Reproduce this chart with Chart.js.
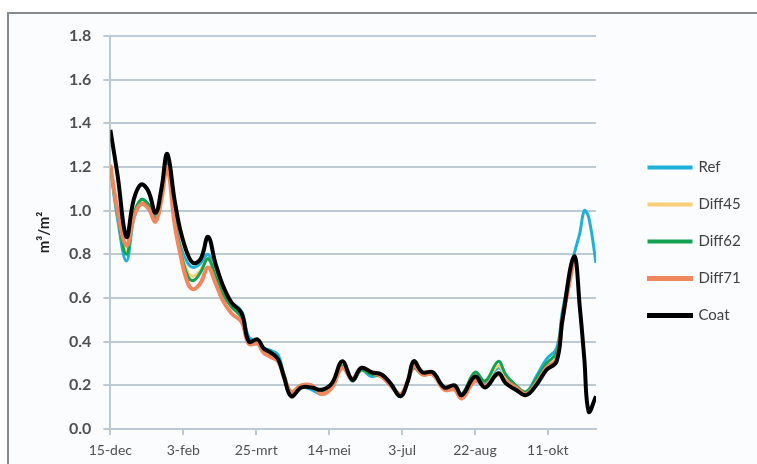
<!DOCTYPE html>
<html>
<head>
<meta charset="utf-8">
<script src="https://cdn.jsdelivr.net/npm/chart.js@4.4.1/dist/chart.umd.min.js"></script>
<style>
  html, body { margin: 0; padding: 0; background: #ffffff; overflow: hidden; }
  #frame {
    position: absolute; left: 7px; top: 12px; width: 780px; height: 470px;
    border-top: 2px solid #858a8e; border-left: 2px solid #858a8e;
    background: #fbfcfe;
  }
  #wrap { position: absolute; left: 0; top: 0; width: 746px; height: 464px; }
</style>
</head>
<body>
<div id="frame"></div>
<div id="wrap"><canvas id="chart"></canvas></div>
<script>
// days after 15-dec
const days = [0, 5, 11, 16, 21, 26, 31, 35, 39, 44,
  48, 53, 57, 62, 67, 72, 77, 83, 90, 95,
  101, 105, 110, 115, 119, 124, 131, 138, 145, 152,
  159, 166, 172, 179, 186, 192, 199, 204, 208, 214,
  221, 229, 236, 241, 250, 257, 266, 271, 278, 285,
  292, 299, 306, 310, 318, 322, 325, 328, 333];

const dateLabels = ['15-dec', '3-feb', '25-mrt', '14-mei', '3-jul', '22-aug', '11-okt'];

const refVals = [1.20, 0.96, 0.77, 0.96, 1.05, 1.03, 0.97, 1.08, 1.22, 0.97,
  0.84, 0.76, 0.74, 0.76, 0.80, 0.72, 0.64, 0.58, 0.54, 0.42,
  0.40, 0.37, 0.36, 0.34, 0.25, 0.16, 0.19, 0.18, 0.16, 0.20,
  0.29, 0.22, 0.27, 0.24, 0.25, 0.21, 0.15, 0.22, 0.28, 0.25,
  0.25, 0.19, 0.19, 0.15, 0.24, 0.21, 0.28, 0.24, 0.20, 0.17,
  0.24, 0.32, 0.37, 0.54, 0.80, 0.90, 1.00, 0.97, 0.76];

const diff45Vals = [1.20, 0.98, 0.81, 0.97, 1.04, 1.02, 0.96, 1.06, 1.21, 0.95,
  0.82, 0.72, 0.70, 0.73, 0.78, 0.70, 0.62, 0.56, 0.52, 0.40,
  0.40, 0.36, 0.34, 0.32, 0.25, 0.17, 0.20, 0.19, 0.17, 0.20,
  0.29, 0.23, 0.27, 0.25, 0.24, 0.20, 0.16, 0.22, 0.28, 0.25,
  0.25, 0.19, 0.19, 0.15, 0.25, 0.22, 0.29, 0.24, 0.20, 0.17,
  0.22, 0.29, 0.33, 0.51, 0.78];

const diff62Vals = [1.20, 0.98, 0.80, 0.98, 1.05, 1.03, 0.96, 1.07, 1.22, 0.96,
  0.82, 0.70, 0.68, 0.72, 0.78, 0.70, 0.62, 0.56, 0.51, 0.40,
  0.40, 0.36, 0.34, 0.32, 0.25, 0.17, 0.20, 0.19, 0.17, 0.20,
  0.29, 0.22, 0.27, 0.25, 0.24, 0.20, 0.16, 0.22, 0.28, 0.25,
  0.25, 0.19, 0.19, 0.16, 0.26, 0.22, 0.31, 0.25, 0.20, 0.17,
  0.23, 0.30, 0.35, 0.52, 0.79];

const diff71Vals = [1.21, 1.00, 0.84, 0.97, 1.03, 1.01, 0.95, 1.05, 1.20, 0.94,
  0.80, 0.67, 0.64, 0.67, 0.74, 0.67, 0.59, 0.53, 0.49, 0.39,
  0.39, 0.35, 0.33, 0.31, 0.24, 0.17, 0.20, 0.20, 0.16, 0.19,
  0.28, 0.23, 0.28, 0.26, 0.24, 0.20, 0.16, 0.22, 0.29, 0.25,
  0.25, 0.18, 0.18, 0.14, 0.22, 0.20, 0.25, 0.22, 0.19, 0.16,
  0.21, 0.28, 0.32, 0.50, 0.78];

const coatVals = [1.37, 1.16, 0.88, 1.05, 1.12, 1.09, 0.99, 1.10, 1.26, 1.05,
  0.91, 0.80, 0.76, 0.78, 0.88, 0.76, 0.66, 0.58, 0.53, 0.40,
  0.41, 0.37, 0.35, 0.32, 0.24, 0.15, 0.19, 0.19, 0.18, 0.21,
  0.31, 0.225, 0.28, 0.26, 0.25, 0.21, 0.15, 0.22, 0.31, 0.26,
  0.26, 0.19, 0.20, 0.155, 0.24, 0.19, 0.255, 0.21, 0.18, 0.155,
  0.20, 0.27, 0.31, 0.50, 0.79, 0.55, 0.32, 0.08, 0.15];

const seriesNames = ['Ref', 'Diff45', 'Diff62', 'Diff71', 'Coat'];
const seriesColors = ['#1fb0d8', '#fbcf7a', '#12a252', '#f2865f', '#000000'];
const seriesWidths = [3, 3, 3, 4, 4];
const seriesValues = [refVals, diff45Vals, diff62Vals, diff71Vals, coatVals];

const gridColor = '#bccad5';
const textColor = '#505050';

const datasets = seriesNames.map((name, i) => ({
  label: name,
  data: seriesValues[i].map((v, j) => ({ x: days[j], y: v })),
  borderColor: seriesColors[i],
  backgroundColor: seriesColors[i],
  borderWidth: seriesWidths[i],
  pointRadius: 0,
  tension: 0.4,
  fill: false,
  order: seriesNames.length - 1 - i  // Coat drawn on top
}));

new Chart(document.getElementById('chart'), {
  type: 'line',
  data: { datasets: datasets },
  options: {
    responsive: true,
    maintainAspectRatio: false,
    animation: false,
    layout: { padding: { left: 32, top: 36, right: 0, bottom: 0 } },
    plugins: {
      tooltip: { enabled: false },
      legend: {
        position: 'right',
        align: 'start',
        // empty title only used to push the entries down
        title: { display: true, text: ' ', font: { size: 10 }, padding: { top: 90, bottom: 0 } },
        labels: {
          sort: (a, b) => a.datasetIndex - b.datasetIndex,
          boxWidth: 42,
          boxHeight: 1,
          padding: 22,
          color: '#404040',
          font: { family: 'Lato', size: 15 }
        }
      }
    },
    scales: {
      x: {
        type: 'linear',
        min: 0,
        max: 333,
        border: { color: gridColor, width: 2 },
        grid: { display: true, drawOnChartArea: false, color: gridColor, lineWidth: 2, tickLength: 6 },
        ticks: {
          stepSize: 50,
          includeBounds: false,
          autoSkip: false,
          maxRotation: 0,
          padding: 7,
          color: textColor,
          font: { family: 'Lato', size: 14 },
          callback: v => (v % 50 === 0 ? dateLabels[v / 50] : '')
        },
        afterFit: s => { s.height = 35; }
      },
      y: {
        min: 0,
        max: 1.8,
        border: { color: gridColor, width: 2 },
        grid: { color: gridColor, lineWidth: 2, tickLength: 7 },
        ticks: {
          stepSize: 0.2,
          padding: 12,
          color: textColor,
          font: { family: 'Lato', size: 16, weight: 'bold' },
          callback: v => v.toFixed(1)
        },
        title: {
          display: true,
          text: 'm³/m²',
          color: '#222222',
          font: { family: 'Lato', size: 15, weight: 'bold' },
          padding: { top: 3, bottom: 4 }
        }
      },
      spacer: {
        type: 'linear',
        position: 'right',
        display: true,
        border: { display: false },
        grid: { display: false },
        ticks: { display: false },
        afterFit: s => { s.width = 31; }
      }
    }
  }
});
</script>
</body>
</html>
